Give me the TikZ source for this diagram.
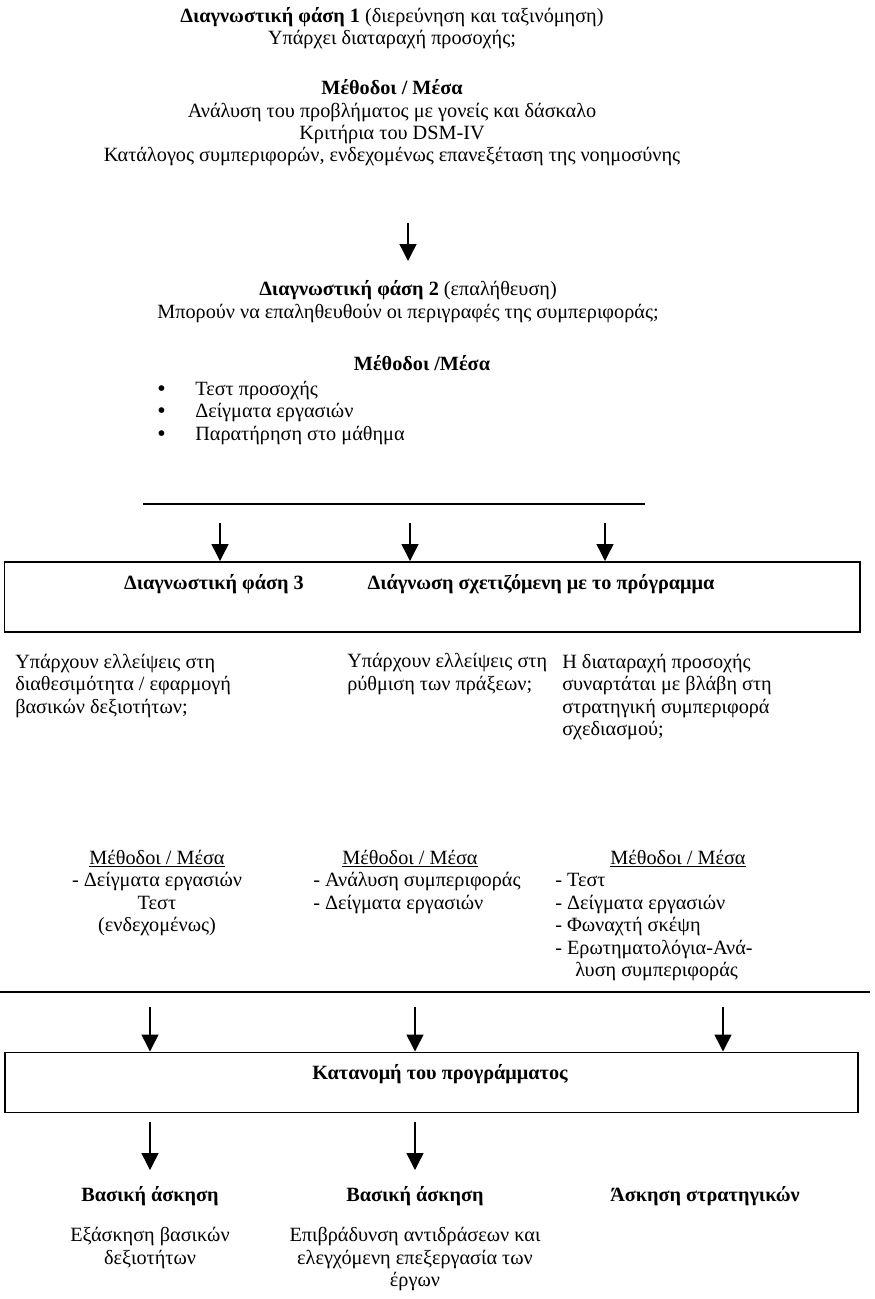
\documentclass[tikz,border=0pt]{standalone}
\usepackage{fontspec}
\setmainfont{Liberation Serif}
\usepackage{tikz}
\usetikzlibrary{arrows.meta, positioning}

\newcommand{\blt}{\makebox[9.5mm][l]{\raisebox{-0.3mm}{\fontsize{17}{16}\selectfont•}}}

\tikzset{
	txt/.style={inner sep=0pt, font=\fontsize{14.4}{16}\selectfont},
	bld/.style={inner sep=0pt, font=\fontsize{14.4}{16}\selectfont\bfseries},
	box/.style={draw, line width=1.4pt, inner sep=0pt},
	rule/.style={line width=1.4pt},
	arr/.style={line width=1pt, -{Triangle[length=4.2mm, width=4.2mm]}}
}

\begin{document}
\begin{tikzpicture}[x=0.25mm, y=-0.25mm]
\useasboundingbox (0,0) rectangle (874,1299);

% Phase 1 (base = last line)
\node[txt, anchor=base, align=center] (fase1) at (392,45) {\textbf{Διαγνωστική φάση 1} (διερεύνηση και ταξινόμηση)\\Υπάρχει διαταραχή προσοχής;};
\node[txt, anchor=base, align=center] (meth1) at (392,162) {\textbf{Μέθοδοι / Μέσα}\\Ανάλυση του προβλήματος με γονείς και δάσκαλο\\Κριτήρια του DSM-IV\\Κατάλογος συμπεριφορών, ενδεχομένως επανεξέταση της νοημοσύνης};

% Arrow to phase 2
\coordinate (ar1s) at (408,223);
\coordinate (ar1e) at (408,261);
\draw[arr] (ar1s) -- (ar1e);

% Phase 2
\node[txt, anchor=base, align=center] (fase2) at (408,318) {\textbf{Διαγνωστική φάση 2} (επαλήθευση)\\Μπορούν να επαληθευθούν οι περιγραφές της συμπεριφοράς;};
\node[bld, anchor=base] (meth2) at (422,370) {Μέθοδοι /Μέσα};
\node[txt, anchor=base west, align=left] (list2) at (157,440) {\blt Τεστ προσοχής\\\blt Δείγματα εργασιών\\\blt Παρατήρηση στο μάθημα};

% Horizontal line
\coordinate (l1a) at (143,504);
\coordinate (l1b) at (645,504);
\draw[rule] (l1a) -- (l1b);

% Phase 3 box
\node[box, minimum width=213.75mm, minimum height=17.5mm] (fase3) at (432,597) {};
\node[bld, anchor=base] (f3a) at (214,589) {Διαγνωστική φάση 3};
\node[bld, anchor=base] (f3b) at (541,589) {Διάγνωση σχετιζόμενη με το πρόγραμμα};

% Arrows into box
\coordinate (ta) at (220,523);
\coordinate (tb) at (410,523);
\coordinate (tc) at (605,523);
\draw[arr] (ta) -- (ta |- fase3.north);
\draw[arr] (tb) -- (tb |- fase3.north);
\draw[arr] (tc) -- (tc |- fase3.north);

% Questions
\node[txt, anchor=base west, align=left] (qa) at (15,713) {Υπάρχουν ελλείψεις στη\\διαθεσιμότητα / εφαρμογή\\βασικών δεξιοτήτων;};
\node[txt, anchor=base west, align=left] (qb) at (347,690.4) {Υπάρχουν ελλείψεις στη\\ρύθμιση των πράξεων;};
\node[txt, anchor=base west, align=left] (qc) at (562,735.6) {Η διαταραχή προσοχής\\συναρτάται με βλάβη στη\\στρατηγική συμπεριφορά\\σχεδιασμού;};

% Methods per question
\node[txt, anchor=base, align=center] (ma) at (157,931.7) {\underline{Μέθοδοι / Μέσα}\\- Δείγματα εργασιών\\Τεστ\\(ενδεχομένως)};
\node[txt, anchor=base] (mbh) at (410,864) {\underline{Μέθοδοι / Μέσα}};
\node[txt, anchor=base west, align=left] (mb) at (313,909.1) {- Ανάλυση συμπεριφοράς\\- Δείγματα εργασιών};
\node[txt, anchor=base] (mch) at (678,864) {\underline{Μέθοδοι / Μέσα}};
\node[txt, anchor=base west, align=left] (mc) at (555,976.8) {- Τεστ\\- Δείγματα εργασιών\\- Φωναχτή σκέψη\\- Ερωτηματολόγια-Ανά-\\\hspace*{5mm}λυση συμπεριφοράς};

% Horizontal line
\coordinate (l2a) at (0,992);
\coordinate (l2b) at (870,992);
\draw[rule] (l2a) -- (l2b);

% Program box
\node[box, minimum width=213.25mm, minimum height=15mm] (prog) at (431.5,1082.5) {};
\node[bld, anchor=base] (kat) at (440,1079) {Κατανομή του προγράμματος};

% Arrows into box
\coordinate (ua) at (150,1007);
\coordinate (ub) at (415,1007);
\coordinate (uc) at (723,1007);
\draw[arr] (ua) -- (ua |- prog.north);
\draw[arr] (ub) -- (ub |- prog.north);
\draw[arr] (uc) -- (uc |- prog.north);

% Arrows out of box
\coordinate (va) at (150,1122);
\coordinate (vb) at (415,1122);
\coordinate (wa) at (150,1170);
\coordinate (wb) at (415,1170);
\draw[arr] (va) -- (wa);
\draw[arr] (vb) -- (wb);

% Training
\node[bld, anchor=base] (bas1) at (150,1201) {Βασική άσκηση};
\node[bld, anchor=base] (bas2) at (415,1201) {Βασική άσκηση};
\node[bld, anchor=base] (strat) at (705,1201) {Άσκηση στρατηγικών};
\node[txt, anchor=base, align=center] (ex1) at (150,1264) {Εξάσκηση βασικών\\δεξιοτήτων};
\node[txt, anchor=base, align=center] (ex2) at (415,1286.6) {Επιβράδυνση αντιδράσεων και\\ελεγχόμενη επεξεργασία των\\έργων};

\end{tikzpicture}
\end{document}
